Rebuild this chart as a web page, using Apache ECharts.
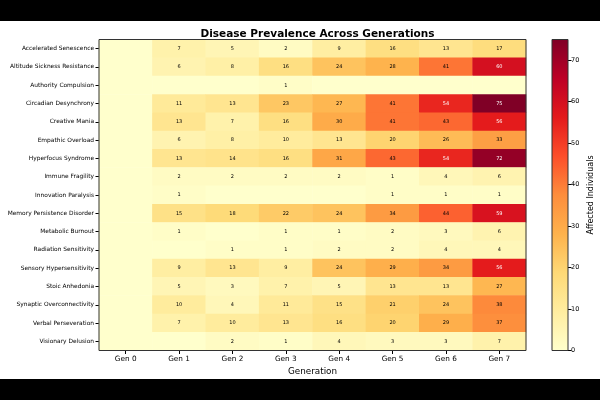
<!DOCTYPE html>
<html>
<head>
<meta charset="utf-8">
<script src="https://cdn.jsdelivr.net/npm/echarts@6/dist/echarts.min.js"></script>
<style>
html,body{margin:0;padding:0;background:#fff;}
#main{width:600px;height:400px;}
</style>
</head>
<body>
<div id="main"></div>
<script>
const generations = ['Gen 0','Gen 1','Gen 2','Gen 3','Gen 4','Gen 5','Gen 6','Gen 7'];
const diseases = [
  'Accelerated Senescence','Altitude Sickness Resistance','Authority Compulsion',
  'Circadian Desynchrony','Creative Mania','Empathic Overload','Hyperfocus Syndrome',
  'Immune Fragility','Innovation Paralysis','Memory Persistence Disorder',
  'Metabolic Burnout','Radiation Sensitivity','Sensory Hypersensitivity',
  'Stoic Anhedonia','Synaptic Overconnectivity','Verbal Perseveration','Visionary Delusion'
];
const acceleratedSenescence      = [0,7,5,2,9,16,13,17];
const altitudeSicknessResistance = [0,6,8,16,24,28,41,60];
const authorityCompulsion        = [0,0,0,1,0,0,0,0];
const circadianDesynchrony       = [0,11,13,23,27,41,54,75];
const creativeMania              = [0,13,7,16,30,41,43,56];
const empathicOverload           = [0,6,8,10,13,20,26,33];
const hyperfocusSyndrome         = [0,13,14,16,31,43,54,72];
const immuneFragility            = [0,2,2,2,2,1,4,6];
const innovationParalysis        = [0,1,0,0,0,1,1,1];
const memoryPersistenceDisorder  = [0,15,18,22,24,34,44,59];
const metabolicBurnout           = [0,1,0,1,1,2,3,6];
const radiationSensitivity       = [0,0,1,1,2,2,4,4];
const sensoryHypersensitivity    = [0,9,13,9,24,29,34,56];
const stoicAnhedonia             = [0,5,3,7,5,13,13,27];
const synapticOverconnectivity   = [0,10,4,11,15,21,24,38];
const verbalPerseveration        = [0,7,10,13,16,20,29,37];
const visionaryDelusion          = [0,0,2,1,4,3,3,7];
const colorbarTicks = [0,10,20,30,40,50,60,70];

const rows = [acceleratedSenescence, altitudeSicknessResistance, authorityCompulsion,
  circadianDesynchrony, creativeMania, empathicOverload, hyperfocusSyndrome,
  immuneFragility, innovationParalysis, memoryPersistenceDisorder, metabolicBurnout,
  radiationSensitivity, sensoryHypersensitivity, stoicAnhedonia, synapticOverconnectivity,
  verbalPerseveration, visionaryDelusion];

const cells = [];
rows.forEach((r, yi) => r.forEach((v, xi) => cells.push([xi, yi, v])));

const YlOrRd = ['#ffffcc','#ffeda0','#fed976','#feb24c','#fd8d3c','#fc4e2a','#e31a1c','#bd0026','#800026'];
const vmax = 75;
const FONT = 'DejaVu Sans';

const chart = echarts.init(document.getElementById('main'), null, {renderer:'canvas'});
chart.setOption({
  animation: false,
  backgroundColor: '#fff',
  textStyle: {fontFamily: FONT},
  title: {
    text: 'Disease Prevalence Across Generations',
    left: 312.5, top: 24, textAlign: 'center',
    textStyle: {fontFamily: FONT, fontSize: 10.5, fontWeight: 'bold', color: '#000'}
  },
  graphic: [
    {type:'rect', shape:{x:0,y:0,width:600,height:21}, style:{fill:'#000'}, z:100},
    {type:'rect', shape:{x:0,y:379,width:600,height:21}, style:{fill:'#000'}, z:100}
  ],
  grid: [
    {left: 99, top: 39.5, width: 427, height: 311, show: true, borderColor: '#333', borderWidth: 1, backgroundColor: 'transparent', z: 5},
    {left: 552, top: 39.5, width: 16, height: 311, show: true, borderColor: '#333', borderWidth: 1, backgroundColor: 'transparent', z: 5}
  ],
  xAxis: [
    {
      type: 'category', data: generations, gridIndex: 0,
      axisLine: {show: false},
      axisTick: {show: true, alignWithLabel: true, length: 3.5, lineStyle: {color: '#000'}},
      axisLabel: {fontFamily: FONT, fontSize: 7.3, color: '#000', margin: 5},
      splitLine: {show: false},
      name: 'Generation', nameLocation: 'middle', nameGap: 14,
      nameTextStyle: {fontFamily: FONT, fontSize: 8.8, color: '#000'}
    },
    {type: 'category', data: ['c'], gridIndex: 1, show: false}
  ],
  yAxis: [
    {
      type: 'category', data: diseases, gridIndex: 0, inverse: true,
      axisLine: {show: false},
      axisTick: {show: true, alignWithLabel: true, length: 3.5, lineStyle: {color: '#000'}},
      axisLabel: {fontFamily: FONT, fontSize: 5.9, color: '#000', margin: 5},
      splitLine: {show: false}
    },
    {
      type: 'value', gridIndex: 1, min: 0, max: vmax, position: 'right',
      axisLine: {show: false},
      axisTick: {show: true, length: 3.5, lineStyle: {color: '#000'}, customValues: colorbarTicks},
      axisLabel: {fontFamily: FONT, fontSize: 6.5, color: '#000', margin: 3, customValues: colorbarTicks},
      splitLine: {show: false},
      name: 'Affected Individuals', nameLocation: 'middle', nameGap: 19, nameRotate: 90,
      nameTextStyle: {fontFamily: FONT, fontSize: 8, color: '#000'}
    }
  ],
  visualMap: {
    show: false, type: 'continuous', min: 0, max: vmax, dimension: 2, seriesIndex: 0,
    inRange: {color: YlOrRd}
  },
  series: [
    {
      type: 'heatmap', xAxisIndex: 0, yAxisIndex: 0, data: cells,
      label: {
        show: true,
        formatter: p => {
          const v = p.value[2];
          if (!v) return '';
          return v > 45 ? '{w|' + v + '}' : '{b|' + v + '}';
        },
        rich: {
          w: {color: '#fff', fontSize: 5, fontFamily: FONT},
          b: {color: '#000', fontSize: 5, fontFamily: FONT}
        }
      },
      itemStyle: {borderWidth: 0},
      emphasis: {disabled: true}
    },
    {
      type: 'bar', xAxisIndex: 1, yAxisIndex: 1, data: [vmax], barWidth: '100%',
      itemStyle: {
        color: new echarts.graphic.LinearGradient(0, 0, 0, 1,
          YlOrRd.slice().reverse().map((c, i, a) => ({offset: i / (a.length - 1), color: c})))
      },
      emphasis: {disabled: true}, silent: true
    }
  ]
});
</script>
</body>
</html>
